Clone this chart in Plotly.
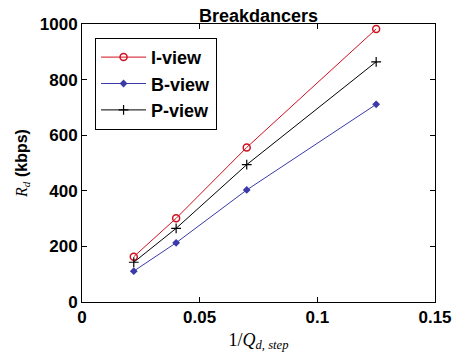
import plotly.graph_objects as go

x_vals = [0.022, 0.04, 0.07, 0.125]
i_view = [163, 301, 556, 982]
b_view = [111, 213, 403, 711]
p_view = [143, 265, 494, 864]
x_ticks = [0, 0.05, 0.1, 0.15]
x_ticktext = ["0", "0.05", "0.1", "0.15"]
y_ticks = [0, 200, 400, 600, 800, 1000]
y_ticktext = ["0", "200", "400", "600", "800", "1000"]

sans = "Liberation Sans, Arial, sans-serif"
serif = "Liberation Serif, Times New Roman, serif"

fig = go.Figure()
fig.add_trace(go.Scatter(x=x_vals, y=i_view, name="<b>I-view</b>", mode="lines+markers",
                         line=dict(color="#d0101e", width=1),
                         marker=dict(symbol="circle-open", size=7, color="#d0101e", line=dict(width=1.5)),
                         legendgroup="i"))
fig.add_trace(go.Scatter(x=x_vals, y=b_view, name="<b>B-view</b>", mode="lines+markers",
                         line=dict(color="#3a3aa8", width=1),
                         marker=dict(symbol="diamond", size=6, color="#3a3aa8"),
                         legendgroup="b"))
fig.add_trace(go.Scatter(x=x_vals, y=p_view, name="<b>P-view</b>", mode="lines+markers",
                         line=dict(color="black", width=1),
                         marker=dict(symbol="cross-thin", size=7, color="black", line=dict(width=1.2, color="black")),
                         legendgroup="p"))

axis_common = dict(showgrid=False, zeroline=False, showline=True, linecolor="black", linewidth=1,
                   mirror="ticks", ticks="inside", ticklen=5, tickcolor="black",
                   tickfont=dict(family=sans, size=17, color="black", weight="bold"))

fig.update_layout(
    width=464, height=360,
    margin=dict(l=82, r=26, t=24, b=58),
    paper_bgcolor="white", plot_bgcolor="white",
    title=dict(text="<b>Breakdancers</b>", x=0.5, xanchor="center", xref="paper",
               y=1, yref="paper", yanchor="bottom", pad=dict(b=2),
               font=dict(family=sans, size=18, color="black")),
    xaxis=dict(range=[0, 0.15], tickvals=x_ticks, ticktext=x_ticktext,
               title=dict(text="1/<i>Q</i><sub><i>d, step</i></sub>", standoff=6,
                          font=dict(family=serif, size=18, color="black")),
               **axis_common),
    yaxis=dict(range=[0, 1000], tickvals=y_ticks, ticktext=y_ticktext,
               title=dict(text="<i><span style='font-family:Liberation Serif'>R<sub>d</sub></span></i> <b>(kbps)</b>",
                          standoff=8, font=dict(family=sans, size=16, color="black")),
               **axis_common),
    legend=dict(x=0.037, y=0.95, xanchor="left", yanchor="top",
                bgcolor="white", bordercolor="black", borderwidth=1,
                font=dict(family=sans, size=18, color="black"),
                tracegroupgap=0, itemwidth=45),
    showlegend=True,
)

fig.write_html("out.html")
